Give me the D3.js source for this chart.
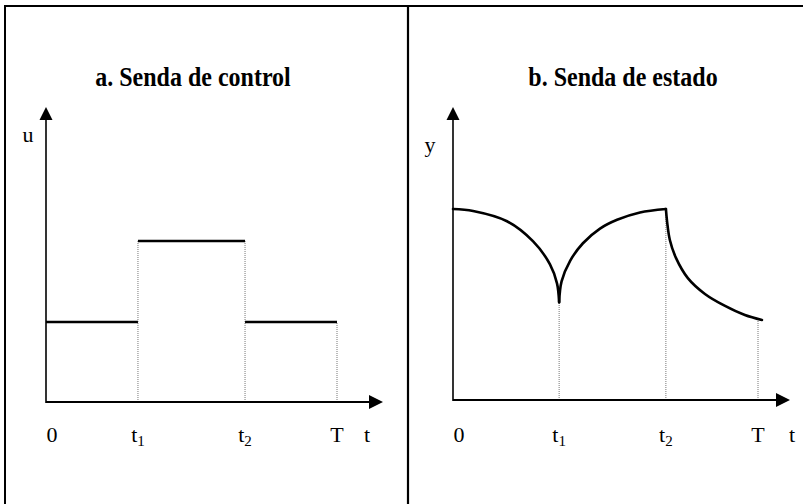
<!DOCTYPE html>
<html>
<head>
<meta charset="utf-8">
<script src="https://cdn.jsdelivr.net/npm/d3@7"></script>
<style>
  body { margin: 0; background: #fff; }
  svg { display: block; font-family: "Liberation Serif", "Times New Roman", serif; }
</style>
</head>
<body>
<div id="chart"></div>
<script>
// títulos y etiquetas
const panelTitles = ["a. Senda de control", "b. Senda de estado"];
const axisNames = [["u", "t"], ["y", "t"]];
const tickNames = [["0", ""], ["t", "1"], ["t", "2"], ["T", ""]];

// panel a: instantes 0, t1, t2, T y niveles del control en cada tramo
const tA = [0, 3.16, 6.84, 10];
const uLevels = [2.71, 5.46, 2.71];

// panel b: instantes 0, t1, t2, T y tramos de la senda de estado
const tB = [0, 3.48, 6.98, 10];
const seg1T = [0, 0.66, 1.77, 2.62, 3.18, 3.41, 3.48];
const seg1Y = [6.52, 6.45, 6.10, 5.42, 4.63, 3.98, 3.34];
const seg2T = [3.48, 3.56, 3.84, 4.26, 4.82, 5.38, 6.13, 6.98];
const seg2Y = [3.34, 4.05, 4.75, 5.35, 5.85, 6.15, 6.40, 6.52];
const seg3T = [6.98, 7.02, 7.11, 7.31, 7.70, 8.26, 8.92, 9.57, 10.13];
const seg3Y = [6.52, 6.08, 5.46, 4.85, 4.16, 3.62, 3.21, 2.90, 2.73];

const W = 803, H = 504;

const svg = d3.select("#chart").append("svg")
    .attr("width", W)
    .attr("height", H);

// marco exterior y separador
svg.append("rect")
    .attr("x", 5).attr("y", 6)
    .attr("width", 810).attr("height", 520)
    .attr("fill", "none").attr("stroke", "#000").attr("stroke-width", 2);
svg.append("line")
    .attr("x1", 408).attr("x2", 408).attr("y1", 6).attr("y2", H)
    .attr("stroke", "#000").attr("stroke-width", 2.2);

// configuración de cada panel
const panels = [
    { x0: 46, xT: 337, xMax: 11.58, y0: 402, yTop: 107, ticks: tA, titleX: 193, titleY: 86,
      nameX: [28, 367], nameY: 142 },
    { x0: 453, xT: 758, xMax: 11.05, y0: 400, yTop: 107, ticks: tB, titleX: 623, titleY: 86,
      nameX: [430, 792], nameY: 152 }
];

panels.forEach((p, i) => {
    const g = svg.append("g");
    const x = d3.scaleLinear().domain([0, 10]).range([p.x0, p.xT]);
    const y = d3.scaleLinear().domain([0, 10]).range([p.y0, p.yTop]);

    // título
    g.append("text")
        .attr("transform", `translate(${p.titleX},${p.titleY}) scale(1,1.1)`)
        .attr("text-anchor", "middle")
        .attr("font-size", 24).attr("font-weight", "bold")
        .text(panelTitles[i]);

    // líneas punteadas verticales
    const dropTops = i === 0
        ? [uLevels[1], uLevels[1], uLevels[2]]
        : [seg1Y[seg1Y.length - 1], seg2Y[seg2Y.length - 1], seg3Y[seg3Y.length - 1]];
    g.selectAll(".drop").data(p.ticks.slice(1)).enter().append("line")
        .attr("x1", d => x(d)).attr("x2", d => x(d))
        .attr("y1", y(0)).attr("y2", (d, j) => y(dropTops[j]))
        .attr("stroke", "#777").attr("stroke-width", 1)
        .attr("stroke-dasharray", "1,1");

    // ejes
    g.append("line")
        .attr("x1", x(0)).attr("x2", x(p.xMax) - 10)
        .attr("y1", y(0)).attr("y2", y(0))
        .attr("stroke", "#000").attr("stroke-width", 2);
    g.append("line")
        .attr("x1", x(0)).attr("x2", x(0))
        .attr("y1", y(0) + 1).attr("y2", y(10) + 10)
        .attr("stroke", "#000").attr("stroke-width", 1.6);

    // puntas de flecha
    const xe = x(p.xMax), ye = y(0);
    g.append("path")
        .attr("d", `M${xe},${ye} L${xe - 14},${ye - 7} L${xe - 14},${ye + 7} Z`)
        .attr("fill", "#000");
    const xa = x(0), ya = y(10);
    g.append("path")
        .attr("d", `M${xa},${ya} L${xa - 6.5},${ya + 13} L${xa + 6.5},${ya + 13} Z`)
        .attr("fill", "#000");

    // etiquetas de los ejes
    g.append("text")
        .attr("x", p.nameX[0]).attr("y", p.nameY)
        .attr("text-anchor", "middle").attr("font-size", 22)
        .text(axisNames[i][0]);
    g.append("text")
        .attr("x", p.nameX[1]).attr("y", 442)
        .attr("text-anchor", "middle").attr("font-size", 22)
        .text(axisNames[i][1]);

    // etiquetas de 0, t1, t2, T
    const lab = g.selectAll(".tick").data(p.ticks).enter().append("text")
        .attr("x", (d, j) => x(d) + (j === 0 ? 6 : 0))
        .attr("y", 442)
        .attr("text-anchor", "middle")
        .attr("font-size", 22);
    lab.append("tspan").text((d, j) => tickNames[j][0]);
    lab.append("tspan")
        .attr("font-size", 15).attr("dy", 4)
        .text((d, j) => tickNames[j][1]);

    // sendas
    const line = d3.line().x(d => x(d[0])).y(d => y(d[1]));
    if (i === 0) {
        const steps = uLevels.map((u, j) => [[tA[j], u], [tA[j + 1], u]]);
        g.selectAll(".step").data(steps).enter().append("path")
            .attr("d", line)
            .attr("fill", "none").attr("stroke", "#000").attr("stroke-width", 2.4);
    } else {
        const segs = [[seg1T, seg1Y], [seg2T, seg2Y], [seg3T, seg3Y]]
            .map(s => s[0].map((t, k) => [t, s[1][k]]));
        g.selectAll(".seg").data(segs).enter().append("path")
            .attr("d", line.curve(d3.curveCatmullRom.alpha(0.5)))
            .attr("fill", "none").attr("stroke", "#000").attr("stroke-width", 2.6)
            .attr("stroke-linecap", "round");
    }
});
</script>
</body>
</html>
